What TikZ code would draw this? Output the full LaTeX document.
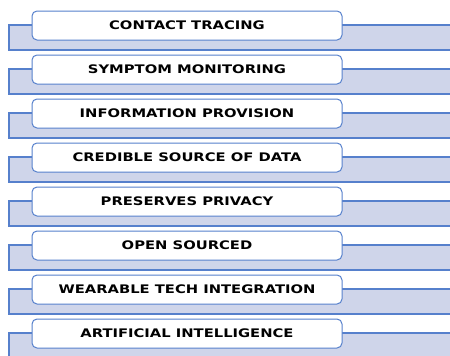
\documentclass[tikz,border=0pt]{standalone}
\usepackage{fontspec}
\newfontfamily\boxfont[FakeStretch=1.25]{DejaVu Sans}
\definecolor{bandfill}{RGB}{207,213,234}
\definecolor{bandline}{RGB}{86,128,204}

\begin{document}
\begin{tikzpicture}[x=1pt,y=-1pt,
	band/.style={draw=bandline,fill=bandfill,line width=1.2pt},
	item/.style={draw=bandline,fill=white,rounded corners=5pt,line width=1pt,
		minimum width=310pt,minimum height=29pt,
		font=\boxfont\bfseries\fontsize{11.8}{13}\selectfont}]
	\useasboundingbox (0,0) rectangle (450,356);
	\draw[band] (9,25) rectangle (460,50);
	\node[item] (tracing) at (187,25.5) {CONTACT TRACING};
	\draw[band] (9,69) rectangle (460,94);
	\node[item] (symptom) at (187,69.5) {SYMPTOM MONITORING};
	\draw[band] (9,113) rectangle (460,138);
	\node[item] (info) at (187,113.5) {INFORMATION PROVISION};
	\draw[band] (9,157) rectangle (460,182);
	\node[item] (credible) at (187,157.5) {CREDIBLE SOURCE OF DATA};
	\draw[band] (9,201) rectangle (460,226);
	\node[item] (privacy) at (187,201.5) {PRESERVES PRIVACY};
	\draw[band] (9,245) rectangle (460,270);
	\node[item] (opensrc) at (187,245.5) {OPEN SOURCED};
	\draw[band] (9,289) rectangle (460,314);
	\node[item] (wearable) at (187,289.5) {WEARABLE TECH INTEGRATION};
	\draw[band] (9,333) rectangle (460,358);
	\node[item] (ai) at (187,333.5) {ARTIFICIAL INTELLIGENCE};
\end{tikzpicture}
\end{document}
